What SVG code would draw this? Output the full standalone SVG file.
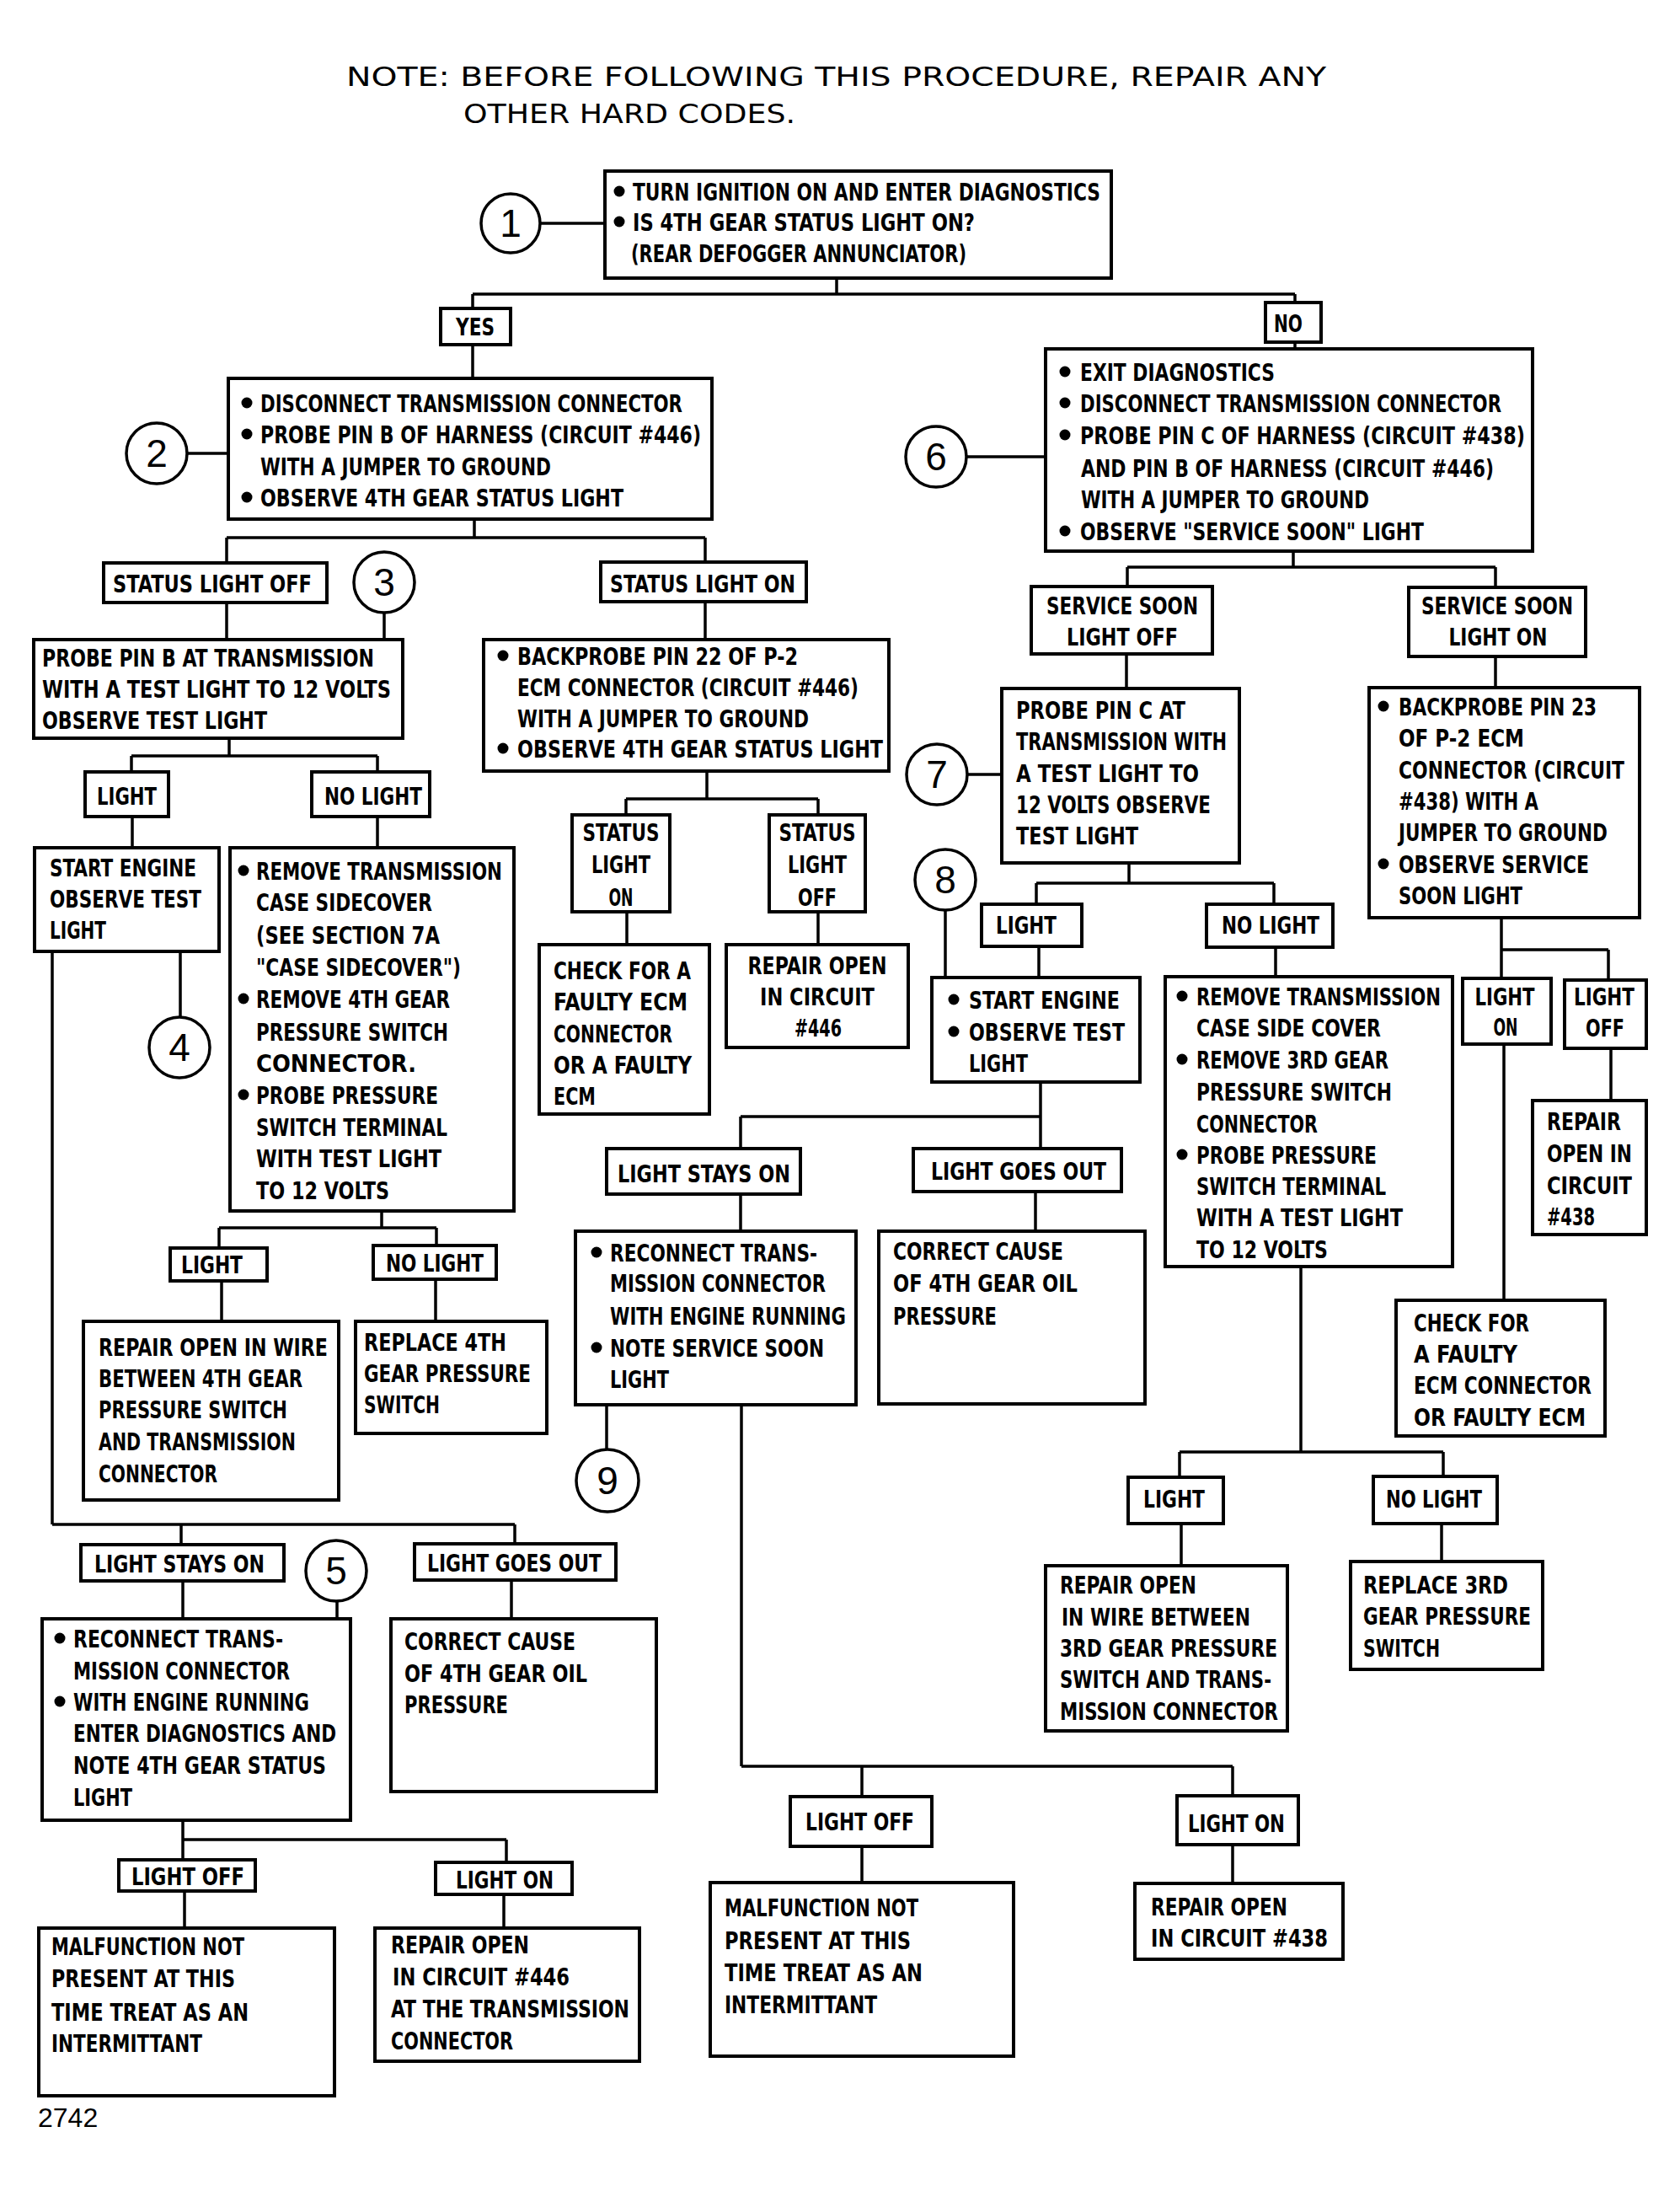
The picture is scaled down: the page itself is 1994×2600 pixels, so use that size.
<svg xmlns="http://www.w3.org/2000/svg" xmlns:xlink="http://www.w3.org/1999/xlink" width="1994" height="2600" viewBox="0 0 1994 2600">
<style>
.b{fill:#fff;stroke:#000;stroke-width:4}
.t{font-family:"DejaVu Sans Condensed","DejaVu Sans",sans-serif;font-weight:bold;font-size:29px;fill:#000}
.m{text-anchor:middle}
.ttl{font-family:"DejaVu Sans","Liberation Sans",sans-serif;font-size:32px;fill:#000}
.cn{fill:none;stroke:#000;stroke-width:3.5}
.cc{fill:#fff;stroke:#000;stroke-width:3.5}
.num{font-family:"Liberation Sans","DejaVu Sans",sans-serif;font-size:46px;text-anchor:middle;fill:#000}
</style>
<defs>
<circle id="bul" r="6.5" fill="#000"/>
</defs>
<rect width="1994" height="2600" fill="#fff"/>

<g id="title">
<text class="ttl" x="411" y="102" textLength="1163" lengthAdjust="spacingAndGlyphs">NOTE: BEFORE FOLLOWING THIS PROCEDURE, REPAIR ANY</text>
<text class="ttl" x="550" y="146" textLength="394" lengthAdjust="spacingAndGlyphs">OTHER HARD CODES.</text>
</g>

<g id="connectors">
<path class="cn" d="M641 265H718 M993 330V349 M561 349H1537 M561 349V366 M1537 349V359 M561 409V449 M1537 406V414 M222 538H271 M1147 542H1241
M563 616V638 M269 638H837 M269 638V668 M837 638V667 M269 715V759 M456 727V759 M837 714V759
M272 876V897 M156 897H448 M156 897V916 M448 897V916 M157 969V1006 M448 969V1006 M214 1129V1207
M62 1129V1809 M62 1809H611 M215 1809V1833 M611 1809V1832
M453 1437V1457 M260 1457H518 M260 1457V1481 M518 1457V1478 M263 1520V1568 M517 1518V1568
M217 1876V1921 M400 1900V1921 M607 1875V1921
M217 2160V2183 M217 2183H601 M217 2183V2207 M601 2183V2210 M219 2244V2288 M598 2248V2288
M839 915V948 M743 948H971 M743 948V967 M971 948V967 M744 1082V1121 M971 1082V1121
M1535 654V673 M1338 673H1775 M1338 673V696 M1775 673V697 M1337 776V817 M1775 779V816 M1148 919H1189
M1340 1024V1048 M1230 1048H1512 M1230 1048V1073 M1512 1048V1073 M1122 1080V1160 M1233 1123V1160 M1514 1124V1159
M1782 1089V1127 M1782 1127H1909 M1782 1127V1161 M1909 1127V1163 M1785 1239V1543 M1912 1244V1306
M1235 1284V1363 M879 1325H1235 M879 1325V1363 M879 1417V1461 M1229 1414V1461
M720 1667V1720 M880 1667V2096 M880 2096H1463 M1023 2096V2132 M1463 2096V2131 M1023 2191V2234 M1463 2189V2235
M1544 1503V1723 M1400 1723H1713 M1400 1723V1753 M1713 1723V1752 M1402 1808V1858 M1711 1808V1853"/>
</g>

<g id="c1"><circle class="cc" cx="606" cy="265" r="35"/><text class="num" x="606" y="281">1</text></g>
<g id="c2"><circle class="cc" cx="186" cy="538" r="36"/><text class="num" x="186" y="554">2</text></g>
<g id="c3"><circle class="cc" cx="456" cy="691" r="36"/><text class="num" x="456" y="707">3</text></g>
<g id="c4"><circle class="cc" cx="213" cy="1243" r="36"/><text class="num" x="213" y="1259">4</text></g>
<g id="c5"><circle class="cc" cx="399" cy="1864" r="36"/><text class="num" x="399" y="1880">5</text></g>
<g id="c6"><circle class="cc" cx="1111" cy="542" r="36"/><text class="num" x="1111" y="558">6</text></g>
<g id="c7"><circle class="cc" cx="1112" cy="919" r="36"/><text class="num" x="1112" y="935">7</text></g>
<g id="c8"><circle class="cc" cx="1122" cy="1044" r="36"/><text class="num" x="1122" y="1060">8</text></g>
<g id="c9"><circle class="cc" cx="721" cy="1757" r="37"/><text class="num" x="721" y="1773">9</text></g>

<g id="n1"><rect class="b" x="718" y="203" width="601" height="127"/>
<use xlink:href="#bul" x="735" y="227"/><use xlink:href="#bul" x="735" y="263"/>
<text class="t" x="751" y="238" textLength="555" lengthAdjust="spacingAndGlyphs">TURN IGNITION ON AND ENTER DIAGNOSTICS</text>
<text class="t" x="751" y="274" textLength="406" lengthAdjust="spacingAndGlyphs">IS 4TH GEAR STATUS LIGHT ON?</text>
<text class="t" x="749" y="311" textLength="398" lengthAdjust="spacingAndGlyphs">(REAR DEFOGGER ANNUNCIATOR)</text></g>

<g id="yes"><rect class="b" x="523" y="366" width="83" height="43"/><text class="t" x="541" y="398" textLength="46" lengthAdjust="spacingAndGlyphs">YES</text></g>
<g id="no"><rect class="b" x="1502" y="359" width="66" height="47"/><text class="t" x="1512" y="394" textLength="34" lengthAdjust="spacingAndGlyphs">NO</text></g>

<g id="n2"><rect class="b" x="271" y="449" width="574" height="167"/>
<use xlink:href="#bul" x="293" y="478"/><use xlink:href="#bul" x="293" y="515"/><use xlink:href="#bul" x="293" y="590"/>
<text class="t" x="309" y="489" textLength="501" lengthAdjust="spacingAndGlyphs">DISCONNECT TRANSMISSION CONNECTOR</text>
<text class="t" x="309" y="526" textLength="523" lengthAdjust="spacingAndGlyphs">PROBE PIN B OF HARNESS (CIRCUIT #446)</text>
<text class="t" x="309" y="564" textLength="345" lengthAdjust="spacingAndGlyphs">WITH A JUMPER TO GROUND</text>
<text class="t" x="309" y="601" textLength="431" lengthAdjust="spacingAndGlyphs">OBSERVE 4TH GEAR STATUS LIGHT</text></g>

<g id="n6"><rect class="b" x="1241" y="414" width="578" height="240"/>
<use xlink:href="#bul" x="1264" y="441"/><use xlink:href="#bul" x="1264" y="478"/><use xlink:href="#bul" x="1264" y="516"/><use xlink:href="#bul" x="1264" y="630"/>
<text class="t" x="1282" y="452" textLength="231" lengthAdjust="spacingAndGlyphs">EXIT DIAGNOSTICS</text>
<text class="t" x="1282" y="489" textLength="500" lengthAdjust="spacingAndGlyphs">DISCONNECT TRANSMISSION CONNECTOR</text>
<text class="t" x="1282" y="527" textLength="528" lengthAdjust="spacingAndGlyphs">PROBE PIN C OF HARNESS (CIRCUIT #438)</text>
<text class="t" x="1283" y="566" textLength="490" lengthAdjust="spacingAndGlyphs">AND PIN B OF HARNESS (CIRCUIT #446)</text>
<text class="t" x="1283" y="603" textLength="342" lengthAdjust="spacingAndGlyphs">WITH A JUMPER TO GROUND</text>
<text class="t" x="1282" y="641" textLength="408" lengthAdjust="spacingAndGlyphs">OBSERVE "SERVICE SOON" LIGHT</text></g>

<g id="slo"><rect class="b" x="123" y="668" width="265" height="47"/><text class="t" x="134" y="703" textLength="236" lengthAdjust="spacingAndGlyphs">STATUS LIGHT OFF</text></g>
<g id="sln"><rect class="b" x="713" y="667" width="244" height="47"/><text class="t" x="724" y="703" textLength="220" lengthAdjust="spacingAndGlyphs">STATUS LIGHT ON</text></g>

<g id="n3"><rect class="b" x="40" y="759" width="438" height="117"/>
<text class="t" x="50" y="791" textLength="394" lengthAdjust="spacingAndGlyphs">PROBE PIN B AT TRANSMISSION</text>
<text class="t" x="50" y="828" textLength="414" lengthAdjust="spacingAndGlyphs">WITH A TEST LIGHT TO 12 VOLTS</text>
<text class="t" x="50" y="865" textLength="267" lengthAdjust="spacingAndGlyphs">OBSERVE TEST LIGHT</text></g>

<g id="bp22"><rect class="b" x="574" y="759" width="481" height="156"/>
<use xlink:href="#bul" x="597" y="778"/><use xlink:href="#bul" x="597" y="888"/>
<text class="t" x="614" y="789" textLength="333" lengthAdjust="spacingAndGlyphs">BACKPROBE PIN 22 OF P-2</text>
<text class="t" x="614" y="826" textLength="405" lengthAdjust="spacingAndGlyphs">ECM CONNECTOR (CIRCUIT #446)</text>
<text class="t" x="614" y="863" textLength="346" lengthAdjust="spacingAndGlyphs">WITH A JUMPER TO GROUND</text>
<text class="t" x="614" y="899" textLength="434" lengthAdjust="spacingAndGlyphs">OBSERVE 4TH GEAR STATUS LIGHT</text></g>

<g id="la"><rect class="b" x="101" y="916" width="99" height="53"/><text class="t" x="115" y="955" textLength="71" lengthAdjust="spacingAndGlyphs">LIGHT</text></g>
<g id="nla"><rect class="b" x="370" y="916" width="140" height="53"/><text class="t" x="385" y="955" textLength="116" lengthAdjust="spacingAndGlyphs">NO LIGHT</text></g>

<g id="n4"><rect class="b" x="41" y="1006" width="219" height="123"/>
<text class="t" x="59" y="1040" textLength="174" lengthAdjust="spacingAndGlyphs">START ENGINE</text>
<text class="t" x="59" y="1077" textLength="180" lengthAdjust="spacingAndGlyphs">OBSERVE TEST</text>
<text class="t" x="59" y="1114" textLength="67" lengthAdjust="spacingAndGlyphs">LIGHT</text></g>

<g id="a4"><rect class="b" x="273" y="1006" width="337" height="431"/>
<use xlink:href="#bul" x="289" y="1033"/><use xlink:href="#bul" x="289" y="1185"/><use xlink:href="#bul" x="289" y="1299"/>
<text class="t" x="304" y="1044" textLength="292" lengthAdjust="spacingAndGlyphs">REMOVE TRANSMISSION</text>
<text class="t" x="304" y="1081" textLength="209" lengthAdjust="spacingAndGlyphs">CASE SIDECOVER</text>
<text class="t" x="304" y="1120" textLength="218" lengthAdjust="spacingAndGlyphs">(SEE SECTION 7A</text>
<text class="t" x="304" y="1158" textLength="243" lengthAdjust="spacingAndGlyphs">"CASE SIDECOVER")</text>
<text class="t" x="304" y="1196" textLength="230" lengthAdjust="spacingAndGlyphs">REMOVE 4TH GEAR</text>
<text class="t" x="304" y="1235" textLength="228" lengthAdjust="spacingAndGlyphs">PRESSURE SWITCH</text>
<text class="t" x="304" y="1272" textLength="190" lengthAdjust="spacingAndGlyphs">CONNECTOR.</text>
<text class="t" x="304" y="1310" textLength="216" lengthAdjust="spacingAndGlyphs">PROBE PRESSURE</text>
<text class="t" x="304" y="1348" textLength="227" lengthAdjust="spacingAndGlyphs">SWITCH TERMINAL</text>
<text class="t" x="304" y="1385" textLength="220" lengthAdjust="spacingAndGlyphs">WITH TEST LIGHT</text>
<text class="t" x="304" y="1423" textLength="158" lengthAdjust="spacingAndGlyphs">TO 12 VOLTS</text></g>

<g id="sln3"><rect class="b" x="679" y="967" width="116" height="115"/>
<text class="t m" x="737" y="998" textLength="91" lengthAdjust="spacingAndGlyphs">STATUS</text>
<text class="t m" x="737" y="1036" textLength="70" lengthAdjust="spacingAndGlyphs">LIGHT</text>
<text class="t m" x="737" y="1075" textLength="29" lengthAdjust="spacingAndGlyphs">ON</text></g>
<g id="slo3"><rect class="b" x="913" y="967" width="114" height="115"/>
<text class="t m" x="970" y="998" textLength="91" lengthAdjust="spacingAndGlyphs">STATUS</text>
<text class="t m" x="970" y="1036" textLength="70" lengthAdjust="spacingAndGlyphs">LIGHT</text>
<text class="t m" x="970" y="1075" textLength="46" lengthAdjust="spacingAndGlyphs">OFF</text></g>

<g id="chk1"><rect class="b" x="640" y="1121" width="202" height="201"/>
<text class="t" x="657" y="1162" textLength="163" lengthAdjust="spacingAndGlyphs">CHECK FOR A</text>
<text class="t" x="657" y="1199" textLength="159" lengthAdjust="spacingAndGlyphs">FAULTY ECM</text>
<text class="t" x="657" y="1237" textLength="141" lengthAdjust="spacingAndGlyphs">CONNECTOR</text>
<text class="t" x="657" y="1274" textLength="164" lengthAdjust="spacingAndGlyphs">OR A FAULTY</text>
<text class="t" x="657" y="1311" textLength="50" lengthAdjust="spacingAndGlyphs">ECM</text></g>

<g id="r446a"><rect class="b" x="862" y="1121" width="216" height="122"/>
<text class="t m" x="970" y="1156" textLength="165" lengthAdjust="spacingAndGlyphs">REPAIR OPEN</text>
<text class="t m" x="970" y="1193" textLength="136" lengthAdjust="spacingAndGlyphs">IN CIRCUIT</text>
<text class="t m" x="971" y="1230" textLength="56" lengthAdjust="spacingAndGlyphs">#446</text></g>

<g id="sso"><rect class="b" x="1224" y="696" width="215" height="80"/>
<text class="t m" x="1332" y="729" textLength="180" lengthAdjust="spacingAndGlyphs">SERVICE SOON</text>
<text class="t m" x="1332" y="766" textLength="132" lengthAdjust="spacingAndGlyphs">LIGHT OFF</text></g>
<g id="ssn"><rect class="b" x="1672" y="697" width="210" height="82"/>
<text class="t m" x="1777" y="729" textLength="180" lengthAdjust="spacingAndGlyphs">SERVICE SOON</text>
<text class="t m" x="1778" y="766" textLength="117" lengthAdjust="spacingAndGlyphs">LIGHT ON</text></g>

<g id="n7"><rect class="b" x="1189" y="817" width="282" height="207"/>
<text class="t" x="1206" y="853" textLength="201" lengthAdjust="spacingAndGlyphs">PROBE PIN C AT</text>
<text class="t" x="1206" y="890" textLength="250" lengthAdjust="spacingAndGlyphs">TRANSMISSION WITH</text>
<text class="t" x="1206" y="928" textLength="217" lengthAdjust="spacingAndGlyphs">A TEST LIGHT TO</text>
<text class="t" x="1206" y="965" textLength="231" lengthAdjust="spacingAndGlyphs">12 VOLTS OBSERVE</text>
<text class="t" x="1206" y="1002" textLength="145" lengthAdjust="spacingAndGlyphs">TEST LIGHT</text></g>

<g id="bp23"><rect class="b" x="1625" y="816" width="321" height="273"/>
<use xlink:href="#bul" x="1642" y="838"/><use xlink:href="#bul" x="1642" y="1025"/>
<text class="t" x="1660" y="849" textLength="235" lengthAdjust="spacingAndGlyphs">BACKPROBE PIN 23</text>
<text class="t" x="1660" y="886" textLength="149" lengthAdjust="spacingAndGlyphs">OF P-2 ECM</text>
<text class="t" x="1660" y="924" textLength="268" lengthAdjust="spacingAndGlyphs">CONNECTOR (CIRCUIT</text>
<text class="t" x="1660" y="961" textLength="166" lengthAdjust="spacingAndGlyphs">#438) WITH A</text>
<text class="t" x="1660" y="998" textLength="248" lengthAdjust="spacingAndGlyphs">JUMPER TO GROUND</text>
<text class="t" x="1660" y="1036" textLength="226" lengthAdjust="spacingAndGlyphs">OBSERVE SERVICE</text>
<text class="t" x="1660" y="1073" textLength="147" lengthAdjust="spacingAndGlyphs">SOON LIGHT</text></g>

<g id="lb"><rect class="b" x="1165" y="1073" width="119" height="50"/><text class="t" x="1182" y="1108" textLength="72" lengthAdjust="spacingAndGlyphs">LIGHT</text></g>
<g id="nlb"><rect class="b" x="1432" y="1073" width="150" height="51"/><text class="t" x="1450" y="1108" textLength="116" lengthAdjust="spacingAndGlyphs">NO LIGHT</text></g>

<g id="n8"><rect class="b" x="1106" y="1160" width="247" height="124"/>
<use xlink:href="#bul" x="1132" y="1186"/><use xlink:href="#bul" x="1132" y="1224"/>
<text class="t" x="1150" y="1197" textLength="179" lengthAdjust="spacingAndGlyphs">START ENGINE</text>
<text class="t" x="1150" y="1235" textLength="185" lengthAdjust="spacingAndGlyphs">OBSERVE TEST</text>
<text class="t" x="1150" y="1272" textLength="70" lengthAdjust="spacingAndGlyphs">LIGHT</text></g>

<g id="b3"><rect class="b" x="1383" y="1159" width="341" height="344"/>
<use xlink:href="#bul" x="1403" y="1182"/><use xlink:href="#bul" x="1403" y="1257"/><use xlink:href="#bul" x="1403" y="1370"/>
<text class="t" x="1420" y="1193" textLength="290" lengthAdjust="spacingAndGlyphs">REMOVE TRANSMISSION</text>
<text class="t" x="1420" y="1230" textLength="219" lengthAdjust="spacingAndGlyphs">CASE SIDE COVER</text>
<text class="t" x="1420" y="1268" textLength="228" lengthAdjust="spacingAndGlyphs">REMOVE 3RD GEAR</text>
<text class="t" x="1420" y="1306" textLength="232" lengthAdjust="spacingAndGlyphs">PRESSURE SWITCH</text>
<text class="t" x="1420" y="1344" textLength="144" lengthAdjust="spacingAndGlyphs">CONNECTOR</text>
<text class="t" x="1420" y="1381" textLength="214" lengthAdjust="spacingAndGlyphs">PROBE PRESSURE</text>
<text class="t" x="1420" y="1418" textLength="225" lengthAdjust="spacingAndGlyphs">SWITCH TERMINAL</text>
<text class="t" x="1420" y="1455" textLength="245" lengthAdjust="spacingAndGlyphs">WITH A TEST LIGHT</text>
<text class="t" x="1420" y="1493" textLength="156" lengthAdjust="spacingAndGlyphs">TO 12 VOLTS</text></g>

<g id="lonr"><rect class="b" x="1736" y="1161" width="105" height="78"/>
<text class="t m" x="1786" y="1193" textLength="71" lengthAdjust="spacingAndGlyphs">LIGHT</text>
<text class="t m" x="1787" y="1229" textLength="29" lengthAdjust="spacingAndGlyphs">ON</text></g>
<g id="loffr"><rect class="b" x="1857" y="1163" width="97" height="81"/>
<text class="t m" x="1904" y="1193" textLength="72" lengthAdjust="spacingAndGlyphs">LIGHT</text>
<text class="t m" x="1905" y="1230" textLength="46" lengthAdjust="spacingAndGlyphs">OFF</text></g>

<g id="r438a"><rect class="b" x="1819" y="1306" width="135" height="159"/>
<text class="t" x="1836" y="1341" textLength="88" lengthAdjust="spacingAndGlyphs">REPAIR</text>
<text class="t" x="1836" y="1379" textLength="101" lengthAdjust="spacingAndGlyphs">OPEN IN</text>
<text class="t" x="1836" y="1417" textLength="101" lengthAdjust="spacingAndGlyphs">CIRCUIT</text>
<text class="t" x="1836" y="1454" textLength="57" lengthAdjust="spacingAndGlyphs">#438</text></g>

<g id="chk2"><rect class="b" x="1657" y="1543" width="248" height="161"/>
<text class="t" x="1678" y="1580" textLength="137" lengthAdjust="spacingAndGlyphs">CHECK FOR</text>
<text class="t" x="1678" y="1617" textLength="123" lengthAdjust="spacingAndGlyphs">A FAULTY</text>
<text class="t" x="1678" y="1654" textLength="211" lengthAdjust="spacingAndGlyphs">ECM CONNECTOR</text>
<text class="t" x="1678" y="1692" textLength="204" lengthAdjust="spacingAndGlyphs">OR FAULTY ECM</text></g>

<g id="lc"><rect class="b" x="202" y="1481" width="115" height="39"/><text class="t" x="215" y="1511" textLength="73" lengthAdjust="spacingAndGlyphs">LIGHT</text></g>
<g id="nlc"><rect class="b" x="443" y="1478" width="146" height="40"/><text class="t" x="458" y="1509" textLength="116" lengthAdjust="spacingAndGlyphs">NO LIGHT</text></g>

<g id="rw4"><rect class="b" x="99" y="1568" width="303" height="212"/>
<text class="t" x="117" y="1609" textLength="272" lengthAdjust="spacingAndGlyphs">REPAIR OPEN IN WIRE</text>
<text class="t" x="117" y="1646" textLength="242" lengthAdjust="spacingAndGlyphs">BETWEEN 4TH GEAR</text>
<text class="t" x="117" y="1683" textLength="224" lengthAdjust="spacingAndGlyphs">PRESSURE SWITCH</text>
<text class="t" x="117" y="1721" textLength="234" lengthAdjust="spacingAndGlyphs">AND TRANSMISSION</text>
<text class="t" x="117" y="1759" textLength="141" lengthAdjust="spacingAndGlyphs">CONNECTOR</text></g>

<g id="rp4"><rect class="b" x="422" y="1568" width="227" height="133"/>
<text class="t" x="432" y="1603" textLength="169" lengthAdjust="spacingAndGlyphs">REPLACE 4TH</text>
<text class="t" x="432" y="1640" textLength="198" lengthAdjust="spacingAndGlyphs">GEAR PRESSURE</text>
<text class="t" x="432" y="1677" textLength="90" lengthAdjust="spacingAndGlyphs">SWITCH</text></g>

<g id="lsom"><rect class="b" x="720" y="1363" width="230" height="54"/><text class="t" x="733" y="1403" textLength="205" lengthAdjust="spacingAndGlyphs">LIGHT STAYS ON</text></g>
<g id="lgom"><rect class="b" x="1084" y="1363" width="247" height="51"/><text class="t" x="1105" y="1400" textLength="208" lengthAdjust="spacingAndGlyphs">LIGHT GOES OUT</text></g>

<g id="n9"><rect class="b" x="683" y="1461" width="333" height="206"/>
<use xlink:href="#bul" x="708" y="1486"/><use xlink:href="#bul" x="708" y="1599"/>
<text class="t" x="724" y="1497" textLength="246" lengthAdjust="spacingAndGlyphs">RECONNECT TRANS-</text>
<text class="t" x="724" y="1533" textLength="256" lengthAdjust="spacingAndGlyphs">MISSION CONNECTOR</text>
<text class="t" x="724" y="1572" textLength="280" lengthAdjust="spacingAndGlyphs">WITH ENGINE RUNNING</text>
<text class="t" x="724" y="1610" textLength="254" lengthAdjust="spacingAndGlyphs">NOTE SERVICE SOON</text>
<text class="t" x="724" y="1647" textLength="70" lengthAdjust="spacingAndGlyphs">LIGHT</text></g>

<g id="ccm"><rect class="b" x="1043" y="1461" width="316" height="205"/>
<text class="t" x="1060" y="1495" textLength="202" lengthAdjust="spacingAndGlyphs">CORRECT CAUSE</text>
<text class="t" x="1060" y="1533" textLength="219" lengthAdjust="spacingAndGlyphs">OF 4TH GEAR OIL</text>
<text class="t" x="1060" y="1572" textLength="123" lengthAdjust="spacingAndGlyphs">PRESSURE</text></g>

<g id="ld"><rect class="b" x="1339" y="1753" width="113" height="55"/><text class="t" x="1357" y="1789" textLength="73" lengthAdjust="spacingAndGlyphs">LIGHT</text></g>
<g id="nld"><rect class="b" x="1630" y="1752" width="147" height="56"/><text class="t" x="1645" y="1789" textLength="114" lengthAdjust="spacingAndGlyphs">NO LIGHT</text></g>

<g id="rw3"><rect class="b" x="1241" y="1858" width="287" height="196"/>
<text class="t" x="1258" y="1891" textLength="162" lengthAdjust="spacingAndGlyphs">REPAIR OPEN</text>
<text class="t" x="1260" y="1929" textLength="224" lengthAdjust="spacingAndGlyphs">IN WIRE BETWEEN</text>
<text class="t" x="1258" y="1966" textLength="258" lengthAdjust="spacingAndGlyphs">3RD GEAR PRESSURE</text>
<text class="t" x="1258" y="2003" textLength="251" lengthAdjust="spacingAndGlyphs">SWITCH AND TRANS-</text>
<text class="t" x="1258" y="2041" textLength="259" lengthAdjust="spacingAndGlyphs">MISSION CONNECTOR</text></g>

<g id="rp3"><rect class="b" x="1603" y="1853" width="228" height="128"/>
<text class="t" x="1618" y="1891" textLength="172" lengthAdjust="spacingAndGlyphs">REPLACE 3RD</text>
<text class="t" x="1618" y="1928" textLength="199" lengthAdjust="spacingAndGlyphs">GEAR PRESSURE</text>
<text class="t" x="1618" y="1966" textLength="91" lengthAdjust="spacingAndGlyphs">SWITCH</text></g>

<g id="lsol"><rect class="b" x="96" y="1833" width="241" height="43"/><text class="t" x="112" y="1866" textLength="202" lengthAdjust="spacingAndGlyphs">LIGHT STAYS ON</text></g>
<g id="lgol"><rect class="b" x="492" y="1832" width="239" height="43"/><text class="t" x="507" y="1865" textLength="207" lengthAdjust="spacingAndGlyphs">LIGHT GOES OUT</text></g>

<g id="n5"><rect class="b" x="50" y="1921" width="366" height="239"/>
<use xlink:href="#bul" x="71" y="1944"/><use xlink:href="#bul" x="71" y="2019"/>
<text class="t" x="87" y="1955" textLength="249" lengthAdjust="spacingAndGlyphs">RECONNECT TRANS-</text>
<text class="t" x="87" y="1993" textLength="257" lengthAdjust="spacingAndGlyphs">MISSION CONNECTOR</text>
<text class="t" x="87" y="2030" textLength="280" lengthAdjust="spacingAndGlyphs">WITH ENGINE RUNNING</text>
<text class="t" x="87" y="2067" textLength="312" lengthAdjust="spacingAndGlyphs">ENTER DIAGNOSTICS AND</text>
<text class="t" x="87" y="2105" textLength="300" lengthAdjust="spacingAndGlyphs">NOTE 4TH GEAR STATUS</text>
<text class="t" x="87" y="2143" textLength="70" lengthAdjust="spacingAndGlyphs">LIGHT</text></g>

<g id="ccl"><rect class="b" x="464" y="1921" width="315" height="205"/>
<text class="t" x="480" y="1958" textLength="203" lengthAdjust="spacingAndGlyphs">CORRECT CAUSE</text>
<text class="t" x="480" y="1996" textLength="217" lengthAdjust="spacingAndGlyphs">OF 4TH GEAR OIL</text>
<text class="t" x="480" y="2033" textLength="123" lengthAdjust="spacingAndGlyphs">PRESSURE</text></g>

<g id="loffl"><rect class="b" x="141" y="2207" width="162" height="37"/><text class="t" x="156" y="2237" textLength="134" lengthAdjust="spacingAndGlyphs">LIGHT OFF</text></g>
<g id="lonl"><rect class="b" x="517" y="2210" width="162" height="38"/><text class="t" x="541" y="2241" textLength="116" lengthAdjust="spacingAndGlyphs">LIGHT ON</text></g>

<g id="mall"><rect class="b" x="46" y="2288" width="351" height="199"/>
<text class="t" x="61" y="2320" textLength="229" lengthAdjust="spacingAndGlyphs">MALFUNCTION NOT</text>
<text class="t" x="61" y="2358" textLength="218" lengthAdjust="spacingAndGlyphs">PRESENT AT THIS</text>
<text class="t" x="61" y="2398" textLength="234" lengthAdjust="spacingAndGlyphs">TIME TREAT AS AN</text>
<text class="t" x="61" y="2435" textLength="179" lengthAdjust="spacingAndGlyphs">INTERMITTANT</text></g>

<g id="r446b"><rect class="b" x="445" y="2288" width="314" height="158"/>
<text class="t" x="464" y="2318" textLength="164" lengthAdjust="spacingAndGlyphs">REPAIR OPEN</text>
<text class="t" x="466" y="2356" textLength="210" lengthAdjust="spacingAndGlyphs">IN CIRCUIT #446</text>
<text class="t" x="464" y="2394" textLength="283" lengthAdjust="spacingAndGlyphs">AT THE TRANSMISSION</text>
<text class="t" x="464" y="2432" textLength="145" lengthAdjust="spacingAndGlyphs">CONNECTOR</text></g>

<g id="loffm"><rect class="b" x="938" y="2132" width="168" height="59"/><text class="t" x="956" y="2172" textLength="129" lengthAdjust="spacingAndGlyphs">LIGHT OFF</text></g>
<g id="lonm"><rect class="b" x="1397" y="2131" width="144" height="58"/><text class="t" x="1410" y="2174" textLength="115" lengthAdjust="spacingAndGlyphs">LIGHT ON</text></g>

<g id="malm"><rect class="b" x="843" y="2234" width="360" height="206"/>
<text class="t" x="860" y="2274" textLength="230" lengthAdjust="spacingAndGlyphs">MALFUNCTION NOT</text>
<text class="t" x="860" y="2313" textLength="221" lengthAdjust="spacingAndGlyphs">PRESENT AT THIS</text>
<text class="t" x="860" y="2351" textLength="235" lengthAdjust="spacingAndGlyphs">TIME TREAT AS AN</text>
<text class="t" x="860" y="2389" textLength="181" lengthAdjust="spacingAndGlyphs">INTERMITTANT</text></g>

<g id="r438b"><rect class="b" x="1347" y="2235" width="247" height="90"/>
<text class="t" x="1366" y="2273" textLength="162" lengthAdjust="spacingAndGlyphs">REPAIR OPEN</text>
<text class="t" x="1366" y="2310" textLength="210" lengthAdjust="spacingAndGlyphs">IN CIRCUIT #438</text></g>

<text x="45" y="2524" style="font-family:'Liberation Sans',Arial,sans-serif;font-size:32px;fill:#000">2742</text>
</svg>
